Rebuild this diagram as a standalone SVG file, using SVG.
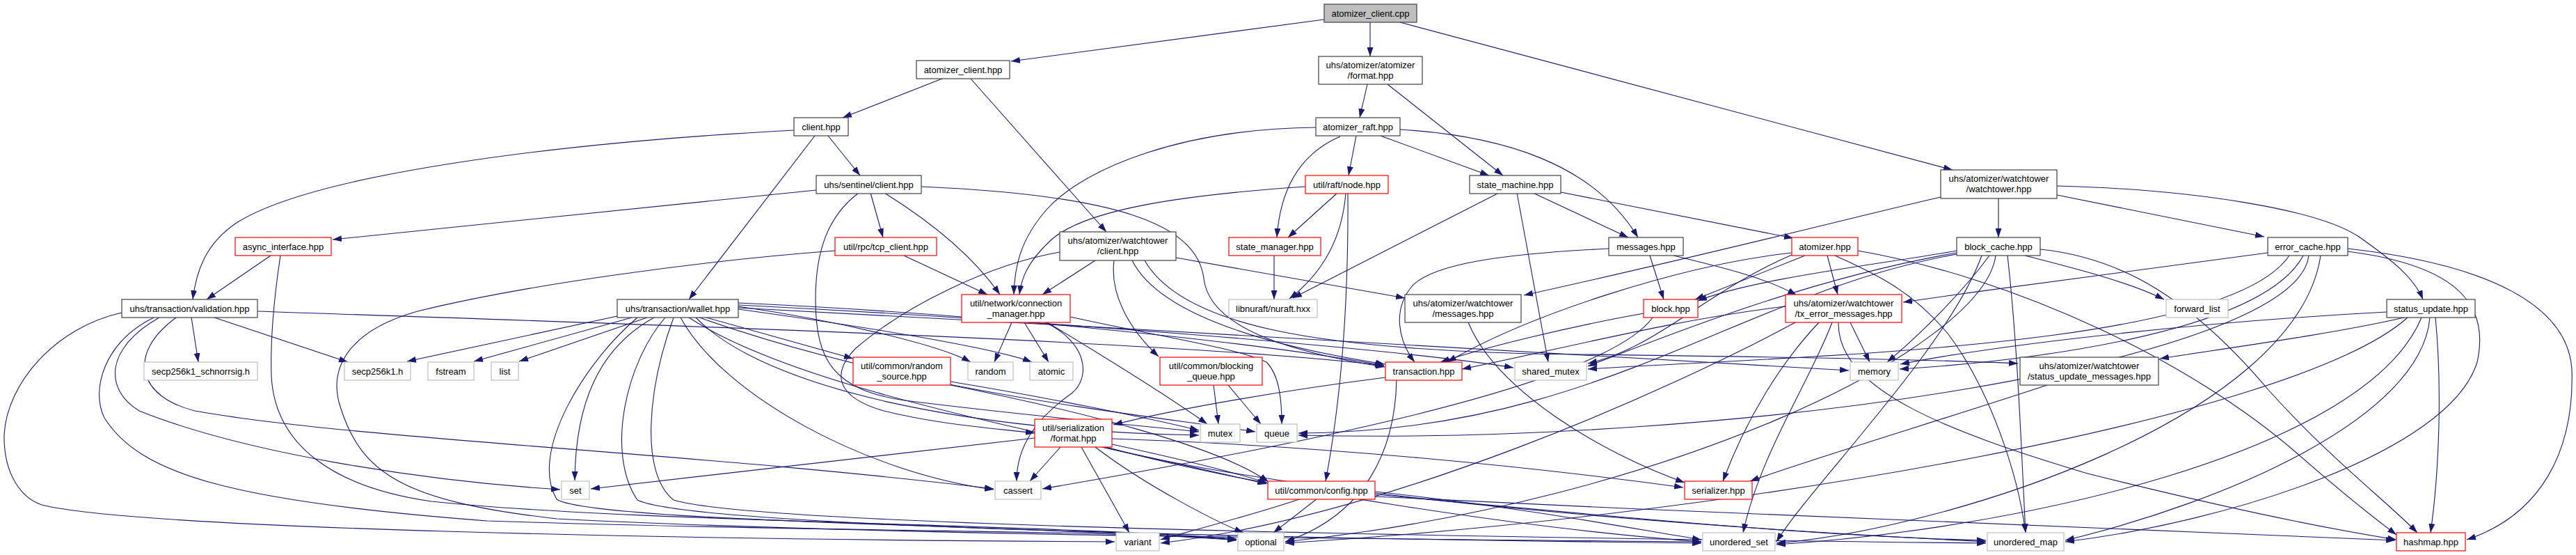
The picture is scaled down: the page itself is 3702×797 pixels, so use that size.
<svg xmlns="http://www.w3.org/2000/svg" width="3702" height="797" viewBox="0 0 3702 797">
<style>
.bg{fill:#fff;stroke:none}
.e{fill:none;stroke:#191970;stroke-width:1.1;marker-end:url(#a)}
.node rect{fill:#fff;stroke:#404040;stroke-width:1.2}
.r rect{stroke:#ff0000}
.g rect{stroke:#bfbfbf}
.root rect{fill:#bfbfbf}
text{font-family:"Liberation Sans",Arial,Helvetica,sans-serif;font-size:13px;text-anchor:middle;fill:#000}
</style>
<defs><marker id="a" markerUnits="userSpaceOnUse" markerWidth="13" markerHeight="9" refX="13" refY="4.5" orient="auto" viewBox="0 0 13 9"><path d="M0,0L13,4.5L0,9z" fill="#191970"/></marker></defs>
<rect class="bg" width="3702" height="797"/>
<g id="edges">
<path class="e" d="M1903,28 L1453,88"/>
<path class="e" d="M1969,32 L1969,81"/>
<path class="e" d="M2012,32 L2806,244"/>
<path class="e" d="M1354,113 L1211,169"/>
<path class="e" d="M1395,113 L1590,333"/>
<path class="e" d="M1965,121 L1954,169"/>
<path class="e" d="M1994,121 L2160,252"/>
<path class="e" d="M1190,195 L1236,252"/>
<path class="e" d="M1171,195 L990,430"/>
<path class="e" d="M1141,187 C800,205 450,250 340,320 C295,350 282,390 277,430"/>
<path class="e" d="M1949,195 L1938,252"/>
<path class="e" d="M1984,195 L2140,252"/>
<path class="e" d="M2012,186 C2160,195 2290,235 2354,341"/>
<path class="e" d="M1926,196 C1870,220 1840,270 1835,341"/>
<path class="e" d="M1891,183 C1700,185 1560,240 1505,300 C1465,345 1458,385 1457,423"/>
<path class="e" d="M2789,283 C2650,315 2480,360 2190,424"/>
<path class="e" d="M2872,285 L2872,341"/>
<path class="e" d="M2956,280 L3254,340"/>
<path class="e" d="M2956,267 C3150,272 3330,300 3390,340 C3440,375 3470,400 3482,430"/>
<path class="e" d="M1173,273 L478,344"/>
<path class="e" d="M1251,277 L1269,341"/>
<path class="e" d="M1271,277 C1340,320 1400,370 1437,423"/>
<path class="e" d="M1324,268 C1600,280 1720,320 1730,400 C1738,470 1850,505 1990,527"/>
<path class="e" d="M1234,277 C1190,310 1172,360 1172,430 C1172,520 1200,560 1300,575 C1500,600 1650,612 1723,620"/>
<path class="e" d="M1922,277 L1851,341"/>
<path class="e" d="M1876,268 C1700,280 1560,300 1510,345 C1475,378 1468,400 1465,423"/>
<path class="e" d="M1934,277 C1930,330 1910,385 1853,429"/>
<path class="e" d="M1937,277 C1938,420 1930,560 1905,691"/>
<path class="e" d="M2203,277 L2340,341"/>
<path class="e" d="M2154,277 L1858,428"/>
<path class="e" d="M2180,277 L2225,520"/>
<path class="e" d="M2243,276 L2577,342"/>
<path class="e" d="M389,367 L297,430"/>
<path class="e" d="M403,367 C395,420 388,480 390,540 C395,640 480,700 620,720 C900,750 1500,752 1777,774"/>
<path class="e" d="M1299,367 L1419,423"/>
<path class="e" d="M1200,360 C1000,375 750,410 600,447 C500,475 470,530 490,587 C520,680 580,720 800,745 C1300,770 2000,774 2445,778"/>
<path class="e" d="M1574,374 L1498,423"/>
<path class="e" d="M1690,370 L2019,428"/>
<path class="e" d="M1601,374 C1595,420 1620,470 1665,512"/>
<path class="e" d="M1627,374 C1660,440 1780,490 1990,523"/>
<path class="e" d="M1645,374 C1700,470 1900,500 2200,508 C2500,512 2750,515 2900,522"/>
<path class="e" d="M1523,362 C1420,380 1300,440 1230,500 C1195,535 1200,570 1270,590 C1350,610 1430,615 1487,622"/>
<path class="e" d="M1831,367 L1831,430"/>
<path class="e" d="M2312,357 C2150,365 2060,380 2030,410 C2000,445 2010,490 2033,520"/>
<path class="e" d="M2405,367 C2480,385 2540,400 2582,424"/>
<path class="e" d="M2371,367 L2391,430"/>
<path class="e" d="M2594,367 L2436,430"/>
<path class="e" d="M2626,367 L2641,423"/>
<path class="e" d="M2575,363 C2420,380 2200,450 2080,520"/>
<path class="e" d="M2575,366 C2450,420 2380,500 2282,522"/>
<path class="e" d="M2637,367 C2700,395 2750,420 2800,480 C2860,560 2900,680 2911,765"/>
<path class="e" d="M2670,360 C2900,400 3150,520 3300,650 C3380,720 3420,750 3444,768"/>
<path class="e" d="M2812,360 C2700,380 2520,400 2440,432"/>
<path class="e" d="M2910,367 C2980,385 3060,405 3110,430"/>
<path class="e" d="M2812,363 C2600,400 2400,480 2282,526"/>
<path class="e" d="M2859,367 C2820,420 2760,480 2712,520"/>
<path class="e" d="M2812,365 C2500,420 2300,620 1866,622"/>
<path class="e" d="M2868,367 C2850,500 2400,720 1847,778"/>
<path class="e" d="M2885,367 C2900,500 2905,650 2911,765"/>
<path class="e" d="M2848,367 C2800,500 2600,700 2553,778"/>
<path class="e" d="M2932,358 C3050,370 3150,430 3260,560 C3350,660 3430,720 3474,765"/>
<path class="e" d="M3259,363 C3050,390 2900,410 2735,434"/>
<path class="e" d="M3290,367 C3200,500 2600,510 2282,530"/>
<path class="e" d="M3310,367 C3250,480 2900,520 2730,530"/>
<path class="e" d="M3318,367 C3300,520 2500,640 1866,625"/>
<path class="e" d="M3335,367 C3300,600 2800,760 2553,780"/>
<path class="e" d="M3374,361 C3520,380 3580,430 3560,520 C3520,650 3200,750 2968,778"/>
<path class="e" d="M3374,357 C3580,380 3690,440 3696,530 C3700,650 3650,740 3545,775"/>
<path class="e" d="M3455,456 C3350,480 3200,500 3104,515"/>
<path class="e" d="M3430,448 C3200,460 2900,490 2731,523"/>
<path class="e" d="M3460,456 C3300,600 2500,740 1847,780"/>
<path class="e" d="M3480,456 C3400,650 2900,760 2553,782"/>
<path class="e" d="M3492,456 C3480,600 3200,720 2968,776"/>
<path class="e" d="M3500,456 C3510,560 3505,680 3493,765"/>
<path class="e" d="M2942,553 C2800,600 2600,660 2515,691"/>
<path class="e" d="M2614,463 C2560,520 2510,600 2476,691"/>
<path class="e" d="M2633,463 C2600,550 2530,650 2505,765"/>
<path class="e" d="M2642,463 C2640,560 2800,620 3000,680 C3200,730 3350,760 3444,775"/>
<path class="e" d="M2659,463 L2687,520"/>
<path class="e" d="M2566,440 C2400,460 2250,500 2101,530"/>
<path class="e" d="M2580,463 C2400,560 2000,740 1668,780"/>
<path class="e" d="M2110,463 C2150,560 2300,650 2421,693"/>
<path class="e" d="M2362,450 C2250,470 2130,500 2070,520"/>
<path class="e" d="M2375,456 C2300,560 1800,650 1498,702"/>
<path class="e" d="M2007,545 C2005,650 1960,740 1847,778"/>
<path class="e" d="M1991,542 C1850,560 1700,585 1600,610"/>
<path class="e" d="M1744,553 L1751,609"/>
<path class="e" d="M1765,553 L1812,609"/>
<path class="e" d="M1366,548 C1500,570 1650,600 1723,618"/>
<path class="e" d="M1366,553 C1550,590 1750,640 1823,692"/>
<path class="e" d="M1487,629 C1200,660 950,690 849,702"/>
<path class="e" d="M1524,642 L1480,691"/>
<path class="e" d="M1554,642 L1623,765"/>
<path class="e" d="M1574,642 C1650,700 1750,750 1787,765"/>
<path class="e" d="M1598,630 C1900,640 2200,670 2419,700"/>
<path class="e" d="M1598,638 C1700,660 1780,680 1822,694"/>
<path class="e" d="M1590,642 C1800,700 2200,760 2445,778"/>
<path class="e" d="M1585,642 C1900,720 2500,760 2854,778"/>
<path class="e" d="M1870,716 C1800,740 1700,765 1668,775"/>
<path class="e" d="M1893,716 L1830,765"/>
<path class="e" d="M1976,706 C2200,730 2350,760 2445,775"/>
<path class="e" d="M1976,710 C2300,740 2600,770 2854,776"/>
<path class="e" d="M1976,713 C2500,740 3100,760 3442,776"/>
<path class="e" d="M1454,463 L1429,520"/>
<path class="e" d="M1472,463 L1507,520"/>
<path class="e" d="M1505,463 C1600,520 1680,570 1735,609"/>
<path class="e" d="M1502,463 C1560,490 1570,540 1540,565 C1490,600 1461,640 1461,691"/>
<path class="e" d="M1538,455 C1650,480 1780,500 1820,520 C1840,540 1842,580 1842,609"/>
<path class="e" d="M887,454 L585,519"/>
<path class="e" d="M908,456 L681,519"/>
<path class="e" d="M930,456 L746,519"/>
<path class="e" d="M940,456 C860,500 827,580 826,690"/>
<path class="e" d="M1015,456 L1226,515"/>
<path class="e" d="M1061,440 C1200,460 1350,495 1395,520"/>
<path class="e" d="M1061,444 C1250,470 1430,500 1483,520"/>
<path class="e" d="M1061,435 C1400,450 1800,490 1989,525"/>
<path class="e" d="M1061,438 C1500,460 2000,500 2175,528"/>
<path class="e" d="M1061,442 C1600,470 2300,510 2657,532"/>
<path class="e" d="M1000,456 C1100,560 1400,620 1723,625"/>
<path class="e" d="M916,456 C840,520 760,650 800,717 C850,750 1500,755 1777,775"/>
<path class="e" d="M956,456 C900,520 870,650 916,718 C1000,760 2000,775 2445,780"/>
<path class="e" d="M968,456 C930,560 920,680 968,718 C1100,760 2400,775 2854,780"/>
<path class="e" d="M978,456 C1040,570 1250,680 1428,703"/>
<path class="e" d="M990,456 C1150,560 1500,620 1820,695"/>
<path class="e" d="M1005,456 C1300,560 1600,590 1804,620"/>
<path class="e" d="M275,456 L285,520"/>
<path class="e" d="M308,456 L500,520"/>
<path class="e" d="M370,447 C900,465 1700,490 1989,525"/>
<path class="e" d="M175,449 C80,470 10,550 6,624 C5,680 30,715 60,725 C200,760 1000,775 1602,778"/>
<path class="e" d="M221,456 C150,490 130,560 150,600 C200,680 330,720 700,748 C1200,765 1600,760 1777,776"/>
<path class="e" d="M229,456 C150,500 150,560 200,590 C350,650 600,690 805,703"/>
<path class="e" d="M253,456 C180,510 200,570 280,590 C500,630 1000,650 1428,702"/>
</g>
<g id="n_cpp" class="node root"><rect x="1903" y="6" width="133" height="26"/><text x="1969.5" y="23.5">atomizer_client.cpp</text></g>
<g id="n_ach" class="node"><rect x="1317" y="87" width="134" height="26"/><text x="1384" y="104.5">atomizer_client.hpp</text></g>
<g id="n_fmt" class="node"><rect x="1895" y="81" width="149" height="40"/><text x="1969.5" y="97.5">uhs/atomizer/atomizer</text><text x="1969.5" y="112.5">/format.hpp</text></g>
<g id="n_cli" class="node"><rect x="1141" y="169" width="78" height="26"/><text x="1180" y="186.5">client.hpp</text></g>
<g id="n_raft" class="node"><rect x="1891" y="169" width="121" height="26"/><text x="1951.5" y="186.5">atomizer_raft.hpp</text></g>
<g id="n_wt" class="node"><rect x="2789" y="244" width="167" height="41"/><text x="2872.5" y="261">uhs/atomizer/watchtower</text><text x="2872.5" y="276">/watchtower.hpp</text></g>
<g id="n_sent" class="node"><rect x="1173" y="252" width="151" height="26"/><text x="1248.5" y="269.5">uhs/sentinel/client.hpp</text></g>
<g id="n_node" class="node r"><rect x="1876" y="252" width="119" height="26"/><text x="1935.5" y="269.5">util/raft/node.hpp</text></g>
<g id="n_sm" class="node"><rect x="2112" y="252" width="131" height="26"/><text x="2177.5" y="269.5">state_machine.hpp</text></g>
<g id="n_async" class="node r"><rect x="338" y="341" width="138" height="26"/><text x="407" y="358.5">async_interface.hpp</text></g>
<g id="n_tcp" class="node r"><rect x="1200" y="341" width="146" height="26"/><text x="1273" y="358.5">util/rpc/tcp_client.hpp</text></g>
<g id="n_wtc" class="node"><rect x="1523" y="333" width="167" height="41"/><text x="1606.5" y="350">uhs/atomizer/watchtower</text><text x="1606.5" y="365">/client.hpp</text></g>
<g id="n_smgr" class="node r"><rect x="1766" y="341" width="132" height="26"/><text x="1832" y="358.5">state_manager.hpp</text></g>
<g id="n_msg" class="node"><rect x="2312" y="341" width="107" height="26"/><text x="2365.5" y="358.5">messages.hpp</text></g>
<g id="n_atom" class="node r"><rect x="2575" y="341" width="95" height="26"/><text x="2622.5" y="358.5">atomizer.hpp</text></g>
<g id="n_bc" class="node"><rect x="2812" y="341" width="120" height="26"/><text x="2872" y="358.5">block_cache.hpp</text></g>
<g id="n_ec" class="node"><rect x="3259" y="341" width="115" height="26"/><text x="3316.5" y="358.5">error_cache.hpp</text></g>
<g id="n_val" class="node"><rect x="175" y="430" width="195" height="26"/><text x="272.5" y="447.5">uhs/transaction/validation.hpp</text></g>
<g id="n_wal" class="node"><rect x="887" y="430" width="174" height="26"/><text x="974" y="447.5">uhs/transaction/wallet.hpp</text></g>
<g id="n_cm" class="node r"><rect x="1382" y="423" width="156" height="40"/><text x="1460" y="440">util/network/connection</text><text x="1460" y="455">_manager.hpp</text></g>
<g id="n_nuraft" class="node g"><rect x="1766" y="430" width="127" height="26"/><text x="1829.5" y="447.5">libnuraft/nuraft.hxx</text></g>
<g id="n_wtm" class="node"><rect x="2019" y="423" width="167" height="40"/><text x="2102.5" y="440">uhs/atomizer/watchtower</text><text x="2102.5" y="455">/messages.hpp</text></g>
<g id="n_block" class="node r"><rect x="2362" y="430" width="78" height="26"/><text x="2401" y="447.5">block.hpp</text></g>
<g id="n_txe" class="node r"><rect x="2566" y="423" width="167" height="40"/><text x="2649.5" y="440">uhs/atomizer/watchtower</text><text x="2649.5" y="455">/tx_error_messages.hpp</text></g>
<g id="n_fl" class="node g"><rect x="3113" y="430" width="89" height="26"/><text x="3157.5" y="447.5">forward_list</text></g>
<g id="n_su" class="node"><rect x="3430" y="430" width="127" height="26"/><text x="3493.5" y="447.5">status_update.hpp</text></g>
<g id="n_schn" class="node g"><rect x="207" y="520" width="163" height="26"/><text x="288.5" y="537.5">secp256k1_schnorrsig.h</text></g>
<g id="n_secp" class="node g"><rect x="495" y="520" width="95" height="26"/><text x="542.5" y="537.5">secp256k1.h</text></g>
<g id="n_fstream" class="node g"><rect x="615" y="520" width="66" height="26"/><text x="648" y="537.5">fstream</text></g>
<g id="n_list" class="node g"><rect x="706" y="520" width="39" height="26"/><text x="725.5" y="537.5">list</text></g>
<g id="n_rs" class="node r"><rect x="1226" y="513" width="140" height="40"/><text x="1296" y="530">util/common/random</text><text x="1296" y="545">_source.hpp</text></g>
<g id="n_random" class="node g"><rect x="1391" y="520" width="65" height="26"/><text x="1423.5" y="537.5">random</text></g>
<g id="n_atomic" class="node g"><rect x="1480" y="520" width="62" height="26"/><text x="1511" y="537.5">atomic</text></g>
<g id="n_bq" class="node r"><rect x="1667" y="513" width="147" height="40"/><text x="1740.5" y="530">util/common/blocking</text><text x="1740.5" y="545">_queue.hpp</text></g>
<g id="n_tx" class="node r"><rect x="1991" y="520" width="110" height="26"/><text x="2046" y="537.5">transaction.hpp</text></g>
<g id="n_shm" class="node g"><rect x="2177" y="520" width="103" height="26"/><text x="2228.5" y="537.5">shared_mutex</text></g>
<g id="n_mem" class="node g"><rect x="2659" y="520" width="69" height="26"/><text x="2693.5" y="537.5">memory</text></g>
<g id="n_sum" class="node"><rect x="2903" y="513" width="199" height="40"/><text x="3002.5" y="530">uhs/atomizer/watchtower</text><text x="3002.5" y="545">/status_update_messages.hpp</text></g>
<g id="n_sfmt" class="node r"><rect x="1487" y="602" width="111" height="40"/><text x="1542.5" y="619">util/serialization</text><text x="1542.5" y="634">/format.hpp</text></g>
<g id="n_mutex" class="node g"><rect x="1725" y="609" width="57" height="26"/><text x="1753.5" y="626.5">mutex</text></g>
<g id="n_queue" class="node g"><rect x="1806" y="609" width="58" height="26"/><text x="1835" y="626.5">queue</text></g>
<g id="n_set" class="node g"><rect x="807" y="691" width="40" height="26"/><text x="827" y="708.5">set</text></g>
<g id="n_cassert" class="node g"><rect x="1430" y="691" width="66" height="26"/><text x="1463" y="708.5">cassert</text></g>
<g id="n_cfg" class="node r"><rect x="1822" y="691" width="154" height="26"/><text x="1899" y="708.5">util/common/config.hpp</text></g>
<g id="n_ser" class="node r"><rect x="2421" y="691" width="97" height="26"/><text x="2469.5" y="708.5">serializer.hpp</text></g>
<g id="n_variant" class="node g"><rect x="1604" y="765" width="62" height="26"/><text x="1635" y="782.5">variant</text></g>
<g id="n_opt" class="node g"><rect x="1779" y="765" width="66" height="26"/><text x="1812" y="782.5">optional</text></g>
<g id="n_us" class="node g"><rect x="2447" y="765" width="104" height="26"/><text x="2499" y="782.5">unordered_set</text></g>
<g id="n_um" class="node g"><rect x="2856" y="765" width="110" height="26"/><text x="2911" y="782.5">unordered_map</text></g>
<g id="n_hm" class="node r"><rect x="3444" y="765" width="99" height="26"/><text x="3493.5" y="782.5">hashmap.hpp</text></g>
</svg>
